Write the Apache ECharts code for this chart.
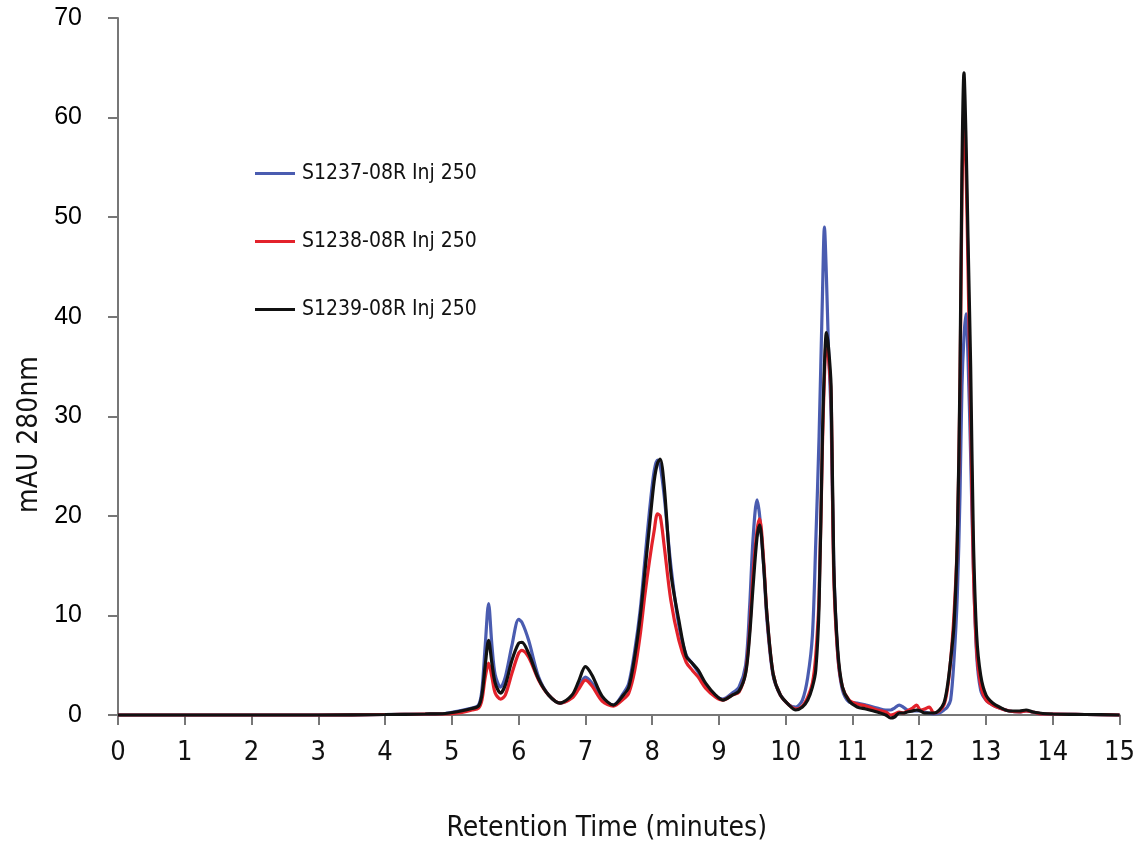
<!DOCTYPE html>
<html>
<head>
  <meta charset="UTF-8" />
  <title>Retention Time</title>
  <style type="text/css">
    * { margin: 0; padding: 0; }
    body { background: #fff; }
    #main { width: 1138px; height: 849px; }
  </style>
</head>
<body>
  <div id="main"></div>
</body>
<script src="https://cdn.jsdelivr.net/npm/echarts@6/dist/echarts.min.js"></script>
<script type="text/javascript">
  // retention time (minutes), shared by the three traces
  let times = [0, 1, 2, 3, 4, 4.6, 4.9, 5.1, 5.3, 5.4, 5.45, 5.5, 5.55, 5.6, 5.65, 5.73, 5.8, 5.9, 6.0, 6.05,
    6.15, 6.3, 6.45, 6.62, 6.8, 6.9, 7.0, 7.1, 7.25, 7.42, 7.57, 7.65, 7.74, 7.82, 7.89, 7.96, 8.03, 8.08, 8.12, 8.18,
    8.28, 8.4, 8.51, 8.6, 8.69, 8.8, 8.95, 9.06, 9.2, 9.3, 9.4, 9.46, 9.51, 9.57, 9.61, 9.67, 9.72, 9.81, 9.92, 10.05,
    10.15, 10.25, 10.33, 10.4, 10.45, 10.5, 10.55, 10.58, 10.61, 10.64, 10.68, 10.72, 10.78, 10.85, 10.95, 11.07, 11.2, 11.37, 11.5, 11.57,
    11.63, 11.7, 11.76, 11.82, 11.9, 11.96, 12.02, 12.08, 12.15, 12.22, 12.3, 12.37, 12.42, 12.47, 12.52, 12.57, 12.61, 12.64, 12.67, 12.7,
    12.73, 12.77, 12.81, 12.86, 12.92, 13.0, 13.1, 13.2, 13.35, 13.5, 13.6, 13.7, 13.85, 14.0, 14.5, 15]

  // mAU 280nm
  let s1237 = [0, 0, 0, 0, 0.05, 0.1, 0.15, 0.4, 0.7, 1.0, 2.5, 7.0, 11.2, 7.0, 4.0, 2.8, 3.8, 7.0, 9.6, 9.3,
    7.5, 3.8, 2.0, 1.2, 1.8, 2.8, 3.8, 3.2, 1.6, 1.0, 2.2, 3.2, 6.5, 10.5, 15.5, 20.5, 24.5, 25.6, 25.0, 22.0,
    15.0, 9.0, 6.0, 5.2, 4.3, 3.0, 1.9, 1.6, 2.2, 2.8, 5.0, 10.9, 17.6, 21.6, 20.0, 15.0, 9.5, 4.0, 2.0, 1.0,
    0.8, 1.5, 3.8, 8.0, 17.3, 28.0, 42.0, 49.0, 44.0, 37.0, 30.0, 15.0, 6.0, 2.5, 1.3, 1.2, 1.0, 0.7, 0.5, 0.5,
    0.7, 1.0, 0.8, 0.5, 0.4, 0.4, 0.4, 0.3, 0.2, 0.1, 0.2, 0.5, 0.8, 1.5, 5.5, 12.0, 22.0, 33.0, 38.0, 40.3,
    36.0, 26.0, 15.0, 6.0, 2.5, 1.5, 1.0, 0.7, 0.4, 0.3, 0.4, 0.3, 0.1, 0.1, 0.05, 0]
  let s1238 = [0, 0, 0, 0, 0.05, 0.1, 0.1, 0.2, 0.5, 0.7, 1.5, 3.8, 5.2, 3.8, 2.2, 1.6, 2.0, 4.2, 6.2, 6.5,
    5.8, 3.5, 2.0, 1.2, 1.7, 2.6, 3.5, 2.9, 1.4, 0.9, 1.6, 2.2, 4.5, 8.0, 12.0, 15.5, 18.5, 20.2, 20.0, 17.0,
    11.5, 7.5, 5.3, 4.5, 3.8, 2.7, 1.8, 1.5, 2.0, 2.3, 4.3, 8.5, 14.0, 18.5, 19.7, 15.5, 10.0, 4.2, 2.0, 1.0,
    0.6, 0.9, 1.8, 3.2, 6.0, 12.0, 27.0, 34.0, 37.7, 36.0, 32.0, 14.0, 6.0, 2.8, 1.5, 1.1, 0.9, 0.5, 0.3, 0.0,
    0.1, 0.3, 0.2, 0.4, 0.7, 1.0, 0.5, 0.6, 0.8, 0.2, 0.4, 1.0, 2.5, 5.5, 10.0, 17.5, 33.0, 52.0, 60.8, 55.0,
    45.0, 30.0, 15.0, 6.5, 3.0, 1.5, 1.0, 0.7, 0.4, 0.3, 0.4, 0.3, 0.1, 0.1, 0.05, 0]
  let s1239 = [0, 0, 0, 0, 0.05, 0.1, 0.15, 0.35, 0.65, 0.9, 2.0, 5.0, 7.5, 5.2, 3.2, 2.2, 3.0, 5.5, 7.2, 7.3,
    6.2, 3.6, 2.0, 1.2, 2.0, 3.4, 4.85, 4.0, 1.9, 1.0, 2.0, 2.8, 5.9, 9.8, 14.3, 19.0, 23.5, 25.3, 25.7, 23.0,
    14.3, 9.5, 5.9, 5.2, 4.5, 3.2, 2.0, 1.5, 2.0, 2.4, 4.2, 8.0, 12.8, 17.8, 19.1, 15.0, 10.0, 4.2, 2.0, 1.0,
    0.5, 0.8, 1.5, 2.8, 4.5, 11.0, 28.0, 35.0, 38.4, 37.0, 33.0, 15.0, 6.5, 2.8, 1.4, 0.8, 0.6, 0.3, 0.0, -0.3,
    -0.2, 0.2, 0.2, 0.3, 0.4, 0.5, 0.4, 0.2, 0.2, 0.2, 0.5, 1.2, 2.8, 5.5, 9.0, 17.6, 34.0, 55.0, 64.5, 58.0,
    48.0, 35.0, 18.0, 8.0, 4.0, 2.0, 1.2, 0.8, 0.4, 0.4, 0.5, 0.3, 0.15, 0.1, 0.05, 0]

  let seriesNames = ['S1237-08R Inj 250', 'S1238-08R Inj 250', 'S1239-08R Inj 250']
  let seriesColors = ['#4a5cb0', '#e3222b', '#111111']

  let narrow = "'Liberation Sans Narrow', 'DejaVu Sans Condensed', sans-serif"
  let myChart = echarts.init(document.getElementById('main'))

  function pairs(values) {
    return times.map((t, i) => [t, values[i]])
  }

  let option = {
    animation: false,
    backgroundColor: '#fff',
    grid: { left: 118, right: 15, top: 18, bottom: 134 },
    legend: {
      left: 250,
      top: 158,
      orient: 'vertical',
      itemGap: 47,
      itemWidth: 40,
      itemHeight: 3,
      icon: 'rect',
      textStyle: { fontFamily: narrow, fontSize: 21, color: '#111', padding: [0, 0, 0, 2] },
      data: seriesNames
    },
    xAxis: {
      type: 'value',
      min: 0,
      max: 15,
      interval: 1,
      name: 'Retention Time (minutes)',
      nameLocation: 'middle',
      nameGap: 100,
      nameTextStyle: { fontFamily: narrow, fontSize: 28, color: '#111', padding: [0, 24, 0, 0] },
      axisLine: { lineStyle: { color: '#777', width: 2 } },
      axisTick: { length: 10, lineStyle: { color: '#777', width: 2 } },
      axisLabel: { fontFamily: narrow, fontSize: 27, color: '#111', margin: 24 },
      splitLine: { show: false }
    },
    yAxis: {
      type: 'value',
      min: 0,
      max: 70,
      interval: 10,
      name: 'mAU 280nm',
      nameLocation: 'middle',
      nameGap: 72,
      nameTextStyle: { fontFamily: narrow, fontSize: 28, color: '#111', padding: [0, 136, 0, 0] },
      axisLine: { show: true, lineStyle: { color: '#777', width: 2 } },
      axisTick: { show: true, length: 10, lineStyle: { color: '#777', width: 2 } },
      axisLabel: { fontFamily: "'Liberation Sans', Arial, sans-serif", fontSize: 25, color: '#000', margin: 36 },
      splitLine: { show: false }
    },
    series: [s1237, s1238, s1239].map((vals, i) => ({
      name: seriesNames[i],
      type: 'line',
      data: pairs(vals),
      smooth: 0.3,
      symbol: 'none',
      clip: false,
      color: seriesColors[i],
      lineStyle: { width: 3.2, color: seriesColors[i] },
      z: 2 + i
    }))
  }
  myChart.setOption(option)
</script>
</html>
